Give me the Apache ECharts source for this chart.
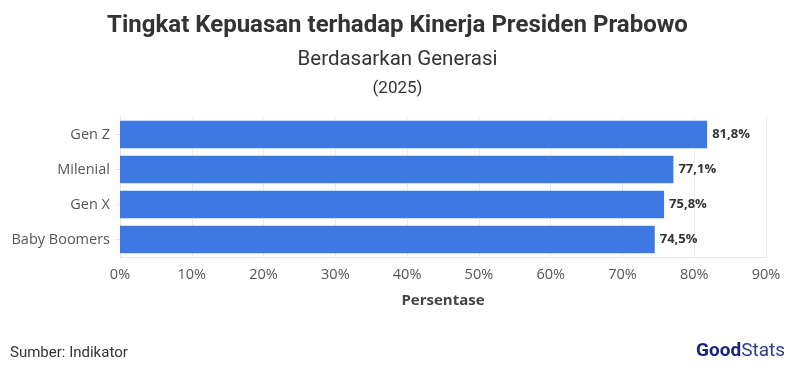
<!DOCTYPE html>
<html><head><meta charset="utf-8">
<script src="https://cdn.jsdelivr.net/npm/echarts@6/dist/echarts.min.js"></script>
<style>html,body{margin:0;padding:0;background:#fff}#c{width:795px;height:384px}</style>
</head><body><div id="c"></div>
<script>
const categories = ["Gen Z", "Milenial", "Gen X", "Baby Boomers"];
const values = [81.8, 77.1, 75.8, 74.5];
const xTicks = [0, 10, 20, 30, 40, 50, 60, 70, 80, 90];

const chart = echarts.init(document.getElementById('c'));
const font = "'Open Sans', 'Noto Sans', sans-serif";
chart.setOption({
  animation: false,
  backgroundColor: '#fff',
  title: [
    {text: 'Tingkat Kepuasan terhadap Kinerja Presiden Prabowo', left: 'center', top: 9,
     textStyle: {fontFamily: "'Roboto', sans-serif", fontSize: 24, fontWeight: 'bold', color: '#333'}},
    {text: 'Berdasarkan Generasi', left: 'center', top: 44,
     textStyle: {fontFamily: "'Roboto', sans-serif", fontSize: 20.5, fontWeight: 'normal', color: '#333'}},
    {text: '(2025)', left: 'center', top: 75,
     textStyle: {fontFamily: "'Roboto', sans-serif", fontSize: 17, fontWeight: 'normal', color: '#333'}}
  ],
  graphic: [
    {type: 'text', left: 10, top: 346, style: {text: 'Sumber: Indikator', fontFamily: "'Roboto', sans-serif", fontSize: 15, fill: '#333'}},
    {type: 'text', right: 10, top: 342, style: {
      rich: {g: {fontFamily: "'Roboto', sans-serif", fontSize: 19, fontWeight: 'bold', fill: '#1a237e'},
             s: {fontFamily: "'Roboto', sans-serif", fontSize: 19, fontWeight: 'normal', fill: '#2b3a8c'}},
      text: '{g|Good}{s|Stats}'}}
  ],
  grid: {left: 120, right: 29, top: 117, height: 140, containLabel: false},
  xAxis: {
    type: 'value', min: 0, max: 90, interval: 10,
    name: 'Persentase', nameLocation: 'middle', nameGap: 36,
    nameTextStyle: {fontFamily: font, fontSize: 15, fontWeight: 'bold', color: '#444'},
    axisLabel: {formatter: v => xTicks.includes(v) ? v + '%' : '', fontFamily: font, fontSize: 14.5, color: '#555', margin: 10},
    axisLine: {show: true, lineStyle: {color: '#e6e6e6'}},
    axisTick: {show: false},
    splitLine: {show: true, lineStyle: {color: '#ebebeb'}}
  },
  yAxis: {
    type: 'category', data: categories, inverse: true,
    axisLabel: {fontFamily: font, fontSize: 14.5, color: '#555', margin: 10},
    axisLine: {show: true, lineStyle: {color: '#e6e6e6'}},
    axisTick: {show: true, length: 5, alignWithLabel: true, lineStyle: {color: '#e6e6e6'}}
  },
  series: [{
    type: 'bar', data: values, barCategoryGap: '22%',
    itemStyle: {color: '#3d78e3'},
    label: {show: true, position: 'right', distance: 5,
      formatter: p => p.value.toFixed(1).replace('.', ',') + '%',
      fontFamily: font, fontSize: 13, fontWeight: 'bold', color: '#333'}
  }]
});
</script></body></html>
